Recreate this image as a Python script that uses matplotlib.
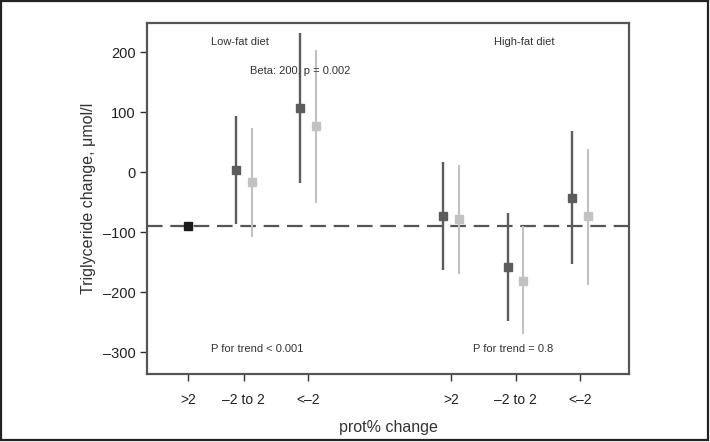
import matplotlib
matplotlib.use("Agg")
import matplotlib.pyplot as plt
from matplotlib.patches import Rectangle

plt.rcParams['font.family'] = ['Liberation Sans', 'DejaVu Sans']

# Group positions (x axis) and tick labels
group_pos = [0, 1, 2.15, 4.7, 5.85, 7]
tick_labels = ['>2', '\u20132 to 2', '<\u20132', '>2', '\u20132 to 2', '<\u20132']

# Reference point (low-fat, >2)
ref_value = -90

# Series A (dark) : low-fat -2 to 2, <-2, high-fat >2, -2 to 2, <-2
dark_groups = [1, 2, 3, 4, 5]
dark_mean = [4, 108, -72, -158, -43]
dark_low = [-86, -17, -163, -248, -152]
dark_high = [94, 233, 18, -68, 69]

# Series B (light)
light_groups = [1, 2, 3, 4, 5]
light_mean = [-16, 77, -77, -181, -73]
light_low = [-107, -51, -170, -270, -187]
light_high = [74, 204, 12, -89, 39]

offset = 0.14
dark_c = '#5c5c5c'
light_c = '#c2c2c2'

fig = plt.figure(figsize=(7.1, 4.42), dpi=100)
ax = fig.add_axes([0.207, 0.1538, 0.679, 0.794])

# reference dashed line
ax.axhline(ref_value, color='#555555', lw=1.6, ls=(0, (7, 3.5)), zorder=1)

for g, m, lo, hi in zip(dark_groups, dark_mean, dark_low, dark_high):
    x = group_pos[g] - offset
    ax.vlines(x, lo, hi, color=dark_c, lw=1.7, zorder=2)
    ax.plot(x, m, 's', color=dark_c, ms=6, zorder=3)
for g, m, lo, hi in zip(light_groups, light_mean, light_low, light_high):
    x = group_pos[g] + offset
    ax.vlines(x, lo, hi, color=light_c, lw=1.5, zorder=2)
    ax.plot(x, m, 's', color=light_c, ms=6, zorder=3)

ax.plot(group_pos[0], ref_value, 's', color='#1a1a1a', ms=6, zorder=3)

ax.set_xlim(-0.73, 7.875)
ax.set_ylim(-336, 249)
ax.set_xticks(group_pos)
ax.set_xticklabels(tick_labels, fontsize=10, color='#222222')
ax.set_yticks([200, 100, 0, -100, -200, -300])
ax.set_yticklabels(['200', '100', '0', '\u2013100', '\u2013200', '\u2013300'], fontsize=10.5, color='#222222')
ax.tick_params(direction='out', length=5, width=1, color='#333333', pad=3)
ax.tick_params(axis='x', pad=9)
for s in ax.spines.values():
    s.set_color('#555555')
    s.set_linewidth(1.6)

ax.set_ylabel('Triglyceride change, \u03bcmol/l', fontsize=11.5, color='#333333', labelpad=5)
ax.set_xlabel('prot% change', fontsize=11.5, color='#333333', labelpad=9)

tc = '#333333'
ax.text(0.193, 0.947, 'Low-fat diet', transform=ax.transAxes, ha='center', va='center', fontsize=8, color=tc)
ax.text(0.317, 0.863, 'Beta: 200, p = 0.002', transform=ax.transAxes, ha='center', va='center', fontsize=8, color=tc)
ax.text(0.782, 0.947, 'High-fat diet', transform=ax.transAxes, ha='center', va='center', fontsize=8, color=tc)
ax.text(0.228, 0.071, 'P for trend < 0.001', transform=ax.transAxes, ha='center', va='center', fontsize=8, color=tc)
ax.text(0.759, 0.071, 'P for trend = 0.8', transform=ax.transAxes, ha='center', va='center', fontsize=8, color=tc)

# figure frame
fig.patches.append(Rectangle((0.002, 0.004), 0.995, 0.993, transform=fig.transFigure,
                             fill=False, edgecolor='#222222', lw=1.6))

fig.savefig('out.png', dpi=100)
